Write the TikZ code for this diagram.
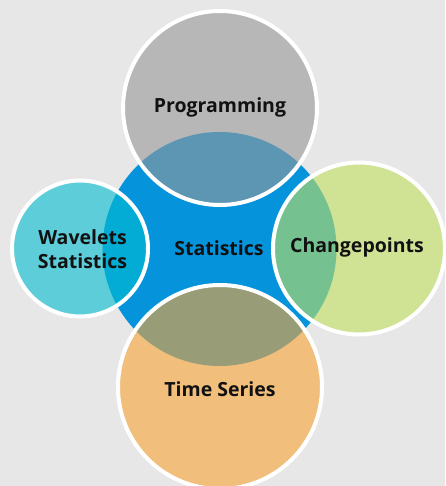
\documentclass[tikz,border=0pt]{standalone}
\usepackage{fontspec}
\setmainfont{Open Sans}
\definecolor{bg}{RGB}{231,231,231}
\definecolor{statblue}{RGB}{5,148,220}
\definecolor{proggray}{RGB}{152,152,152}
\definecolor{tsorange}{RGB}{250,164,53}
\definecolor{cpgreen}{RGB}{193,223,94}
\definecolor{wvcyan}{RGB}{0,188,208}
\definecolor{txt}{RGB}{17,17,17}
\begin{document}
\begin{tikzpicture}[x=1pt,y=-1pt,
  bubble/.style={draw=white,line width=4pt,fill opacity=0.6,draw opacity=1},
  lbl/.style={font=\fontsize{19.5}{24.5}\selectfont\bfseries,text=txt,align=center,inner sep=0pt}]
\fill[bg] (0,0) rectangle (445,486);
\useasboundingbox (0,0) rectangle (445,486);
\clip (0,0) rectangle (445,486);
\fill[statblue] (219.5,249) circle (117);
\path[bubble,fill=proggray] (220,108) circle (97);
\path[bubble,fill=wvcyan] (80,248.5) circle (68);
\path[bubble,fill=cpgreen] (359,248.5) circle (86);
\path[bubble,fill=tsorange] (220,387) circle (102);
\node[lbl] (prog) at (220,107) {Programming};
\node[lbl] (stat) at (219,248) {Statistics};
\node[lbl] (wave) at (82.5,249) {Wavelets\\Statistics};
\node[lbl] (cp) at (357,247) {Changepoints};
\node[lbl] (ts) at (220,389) {Time Series};
\end{tikzpicture}
\end{document}
